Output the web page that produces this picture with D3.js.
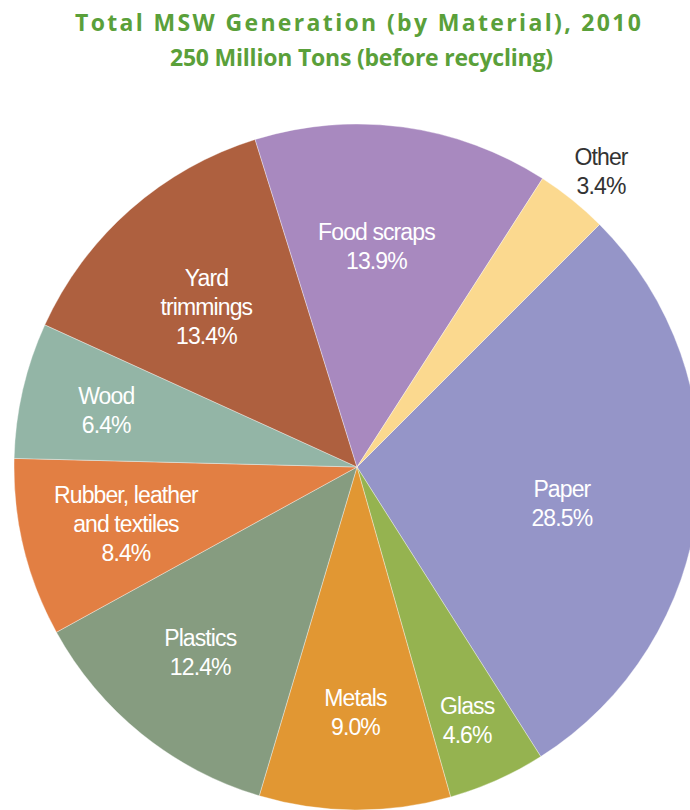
<!DOCTYPE html>
<html>
<head>
<meta charset="utf-8">
<script src="https://cdn.jsdelivr.net/npm/d3@7/dist/d3.min.js"></script>
<style>
  html, body { margin: 0; padding: 0; background: #fff; }
  svg { display: block; }
</style>
</head>
<body>
<svg id="chart" width="690" height="810"></svg>
<script>
// Total MSW generation by material, 2010 (percent of total)
const categories = ["Paper", "Glass", "Metals", "Plastics", "Rubber, leather and textiles", "Wood", "Yard trimmings", "Food scraps", "Other"];
const shares = [28.5, 4.6, 9.0, 12.4, 8.4, 6.4, 13.4, 13.9, 3.4];
const labelLines = [
  ["Paper"], ["Glass"], ["Metals"], ["Plastics"],
  ["Rubber, leather", "and textiles"], ["Wood"], ["Yard", "trimmings"],
  ["Food scraps"], ["Other"]
];
const titleLines = ["Total MSW Generation (by Material), 2010", "250 Million Tons (before recycling)"];

const colors = ["#9595c8", "#95b350", "#e19733", "#869c80", "#e27f43", "#93b5a6", "#ae603f", "#a889bf", "#fbd98f"];
// label placement: [radius, angle offset in degrees]
const labelPlace = [[208, 3.7], [276, 0.6], [245, 0], [243, 1.3], [238, -0.2], [257, -0.3], [220, -1.8], [221, -2.7], [383, 0.7]];
// title line extents: [left, right]
const titleSpan = [[75, 641], [170, 553]];

const svg = d3.select("#chart");
const cx = 357, cy = 467, R = 343;
const rad = Math.PI / 180;

const data = categories.map((c, i) => ({ name: c, value: shares[i], lines: labelLines[i], i }));

const pie = d3.pie().sort(null).value(d => d.value)
  .startAngle(45 * rad).endAngle(45 * rad + 2 * Math.PI);
const arc = d3.arc().innerRadius(0).outerRadius(R);

const g = svg.append("g").attr("transform", `translate(${cx},${cy})`);
const arcs = pie(data);

g.selectAll("path.slice").data(arcs).enter().append("path")
  .attr("class", "slice")
  .attr("d", arc)
  .attr("fill", d => colors[d.data.i])
  .attr("stroke", "#ffffff")
  .attr("stroke-opacity", 0.6)
  .attr("stroke-width", 0.6);

const lineH = 29;
const labels = g.selectAll("text.lbl").data(arcs).enter().append("text")
  .attr("class", "lbl")
  .attr("text-anchor", "middle")
  .attr("font-family", "'Liberation Sans', Arial, sans-serif")
  .attr("font-size", 23)
  .attr("letter-spacing", -0.9)
  .attr("fill", d => d.data.name === "Other" ? "#333333" : "#ffffff")
  .attr("transform", d => {
    const p = labelPlace[d.data.i];
    const a = (d.startAngle + d.endAngle) / 2 + p[1] * rad;
    return `translate(${Math.sin(a) * p[0]},${-Math.cos(a) * p[0]})`;
  });

labels.each(function(d) {
  const lines = d.data.lines.concat([d.data.value.toFixed(1) + "%"]);
  const t = d3.select(this);
  const y0 = -(lines.length - 1) * lineH / 2;
  lines.forEach((ln, k) => {
    t.append("tspan").attr("x", 0).attr("y", y0 + k * lineH).attr("dy", "0.35em").text(ln);
  });
});

// title
svg.append("g").selectAll("text").data(titleLines).enter().append("text")
  .attr("x", (d, i) => titleSpan[i][0])
  .attr("y", (d, i) => 31 + i * 35)
  .attr("textLength", (d, i) => titleSpan[i][1] - titleSpan[i][0])
  .attr("lengthAdjust", "spacing")
  .attr("font-family", "'Open Sans', sans-serif")
  .attr("font-weight", "bold")
  .attr("font-size", 23)
  .attr("fill", "#5aa03a")
  .text(d => d);
</script>
</body>
</html>
